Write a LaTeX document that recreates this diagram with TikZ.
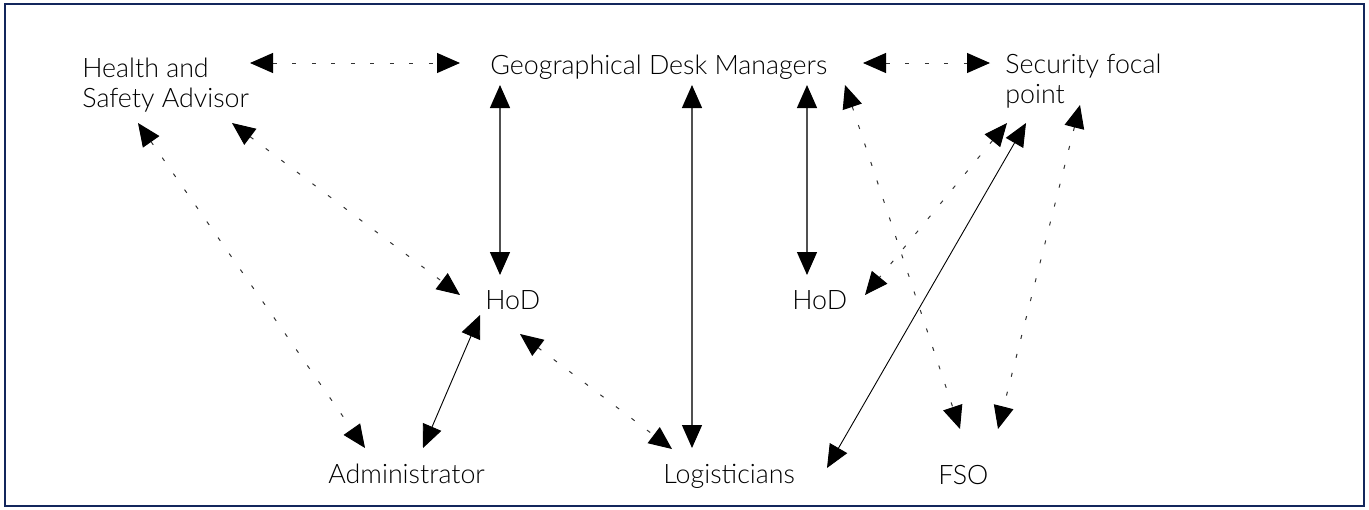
\documentclass[tikz,border=0pt]{standalone}
\usepackage{fontspec}
\setmainfont{Lato Light}
\usetikzlibrary{arrows.meta}
\definecolor{framenavy}{HTML}{13265C}
\definecolor{linegray}{HTML}{505050}
\tikzset{
  lbl/.style={anchor=base west, inner sep=0pt, font=\fontsize{13.4}{15.5}\selectfont},
  >={Triangle[length=11.5pt,width=10pt,color=black]},
  solidlink/.style={draw=black, line width=0.45pt, <->},
  graylink/.style={draw=linegray, line width=0.65pt, <->},
  dotlink/.style={draw=black!80, line width=0.5pt, dash pattern=on 2pt off 7.75pt, <->},
}
\begin{document}
\begin{tikzpicture}[x=0.5pt,y=-0.5pt]
\useasboundingbox (0,0) rectangle (1369,509);
\draw[framenavy, line width=1.2pt] (5,4) rectangle (1364,506);

% labels
\node[lbl] (hsa) at (82,77) {\begin{tabular}[t]{@{}l@{}}Health and\\[-0.3pt]Safety Advisor\end{tabular}};
\node[lbl] (gdm) at (490,74) {Geographical Desk Managers};
\node[lbl] (sfp) at (1005,73) {\begin{tabular}[t]{@{}l@{}}Security focal\\[-0.3pt]point\end{tabular}};
\node[lbl] (hodl) at (485,309) {HoD};
\node[lbl] (hodr) at (792,309) {HoD};
\node[lbl] (adm) at (328,483) {Administrator};
\node[lbl] (log) at (663,483) {Logisticians};
\node[lbl] (fso) at (938,484) {FSO};

% top row links
\draw[dotlink] ([shift={(168,-14)}]hsa.base west) -- ([shift={(-30,-11)}]gdm.base west);
\draw[dotlink] ([shift={(373,-11)}]gdm.base west) -- ([shift={(-15,-10)}]sfp.base west);

% vertical links from the desk managers
\draw[graylink] ([shift={(10,11)}]gdm.base west) -- ([shift={(15,-34)}]hodl.base west);
\draw[graylink] ([shift={(202,11)}]gdm.base west) -- ([shift={(29,-35)}]log.base west);
\draw[graylink] ([shift={(317,11)}]gdm.base west) -- ([shift={(15,-34)}]hodr.base west);

% health and safety advisor
\draw[dotlink] ([shift={(56,46)}]hsa.base west) -- ([shift={(37,-35)}]adm.base west);
\draw[dotlink] ([shift={(150,46)}]hsa.base west) -- ([shift={(-25,-14)}]hodl.base west);

% head of delegation (left)
\draw[solidlink] ([shift={(-5,6)}]hodl.base west) -- ([shift={(95,-35)}]adm.base west);
\draw[dotlink] ([shift={(35,25)}]hodl.base west) -- ([shift={(9,-34)}]log.base west);

% desk managers to FSO
\draw[dotlink] ([shift={(355,11)}]gdm.base west) -- ([shift={(22,-55)}]fso.base west);

% security focal point
\draw[dotlink] ([shift={(2,50)}]sfp.base west) -- ([shift={(73,-14)}]hodr.base west);
\draw[solidlink] ([shift={(21,50)}]sfp.base west) -- ([shift={(164,-15)}]log.base west);
\draw[dotlink] ([shift={(75,32)}]sfp.base west) -- ([shift={(60,-55)}]fso.base west);
\end{tikzpicture}
\end{document}
